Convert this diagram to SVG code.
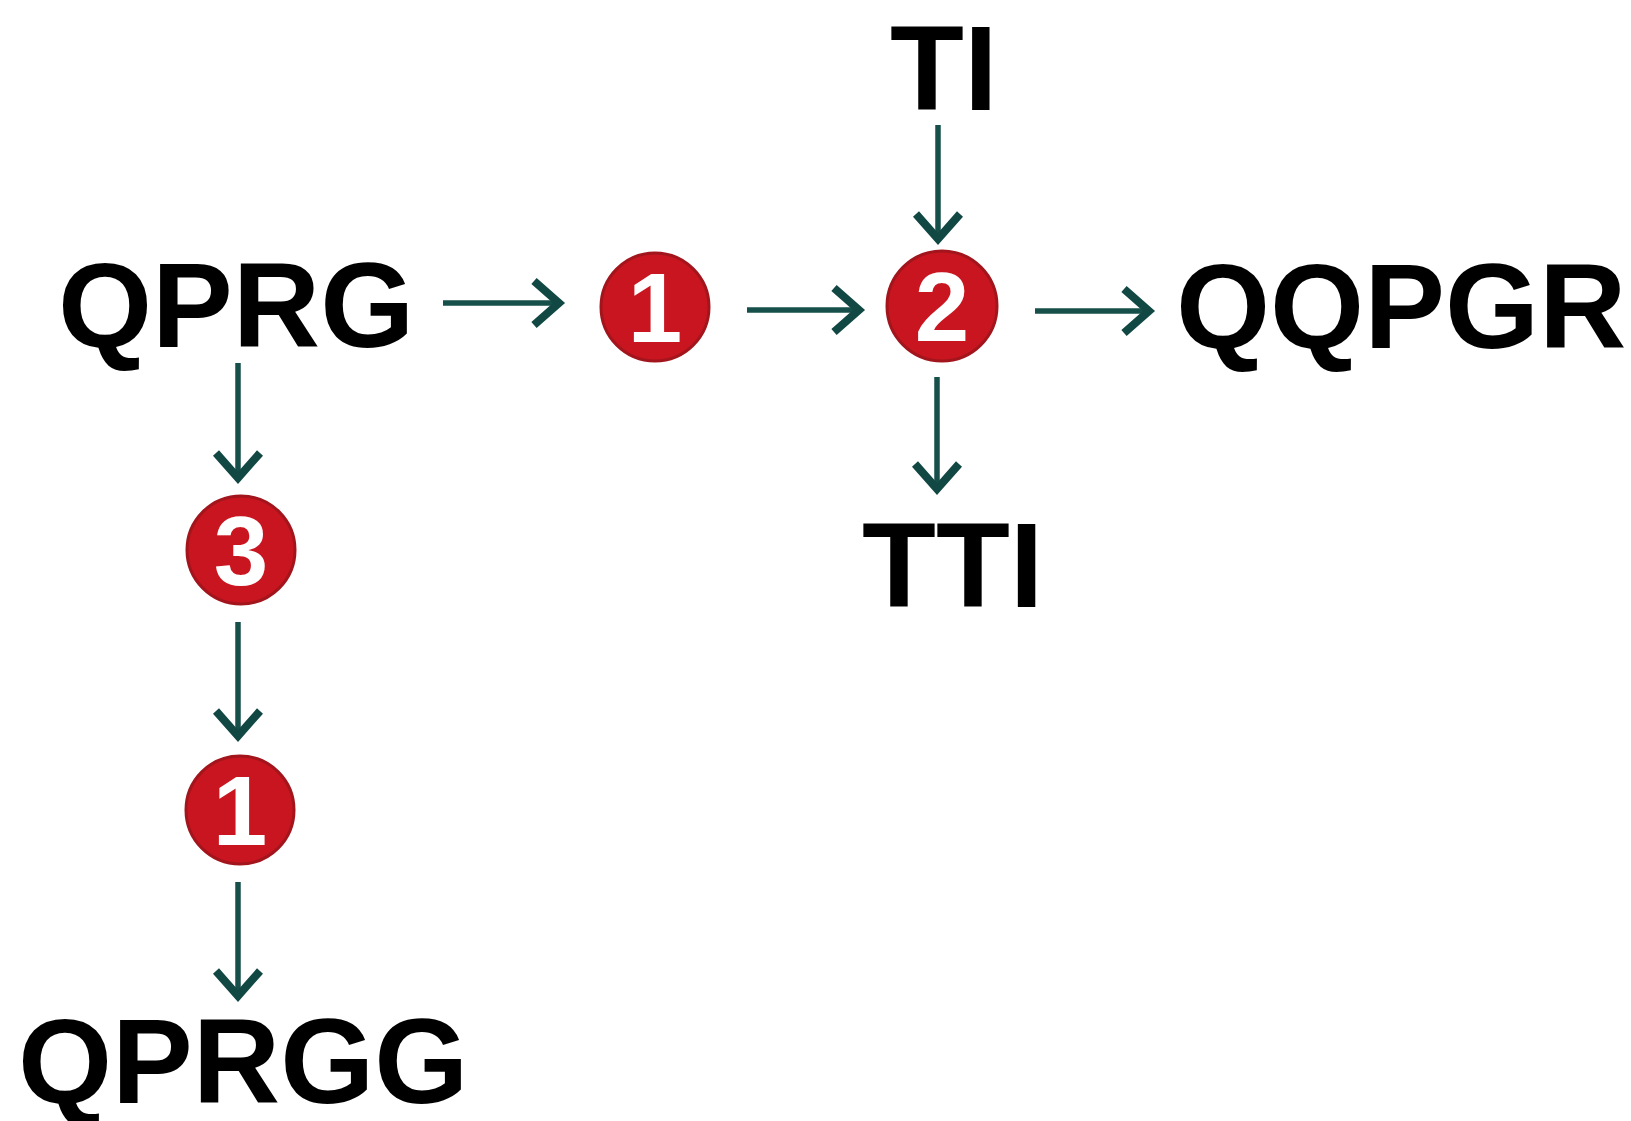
<svg xmlns="http://www.w3.org/2000/svg" width="1631" height="1121" viewBox="0 0 1631 1121">
<style>
.lbl{font-family:"Liberation Sans",Arial,sans-serif;font-weight:bold;font-size:121px;fill:#000}
.num{font-family:"Liberation Sans",Arial,sans-serif;font-weight:bold;font-size:98px;fill:#fff;text-anchor:middle}
.badge{fill:#c8151f;stroke:#a3151c;stroke-width:3}
.conn{stroke:#174f4a;stroke-width:5.5;fill:none;marker-end:url(#ah)}
</style>
<defs>
<marker id="ah" markerUnits="userSpaceOnUse" markerWidth="36" markerHeight="56" refX="29" refY="26" orient="auto" viewBox="0 0 36 56">
<path d="M4,4 L29,26 L4,48" fill="none" stroke="#114843" stroke-width="8" stroke-linejoin="miter" stroke-miterlimit="3"/>
</marker>
</defs>
<rect width="1631" height="1121" fill="#fff"/>
<g id="connectors">
<line class="conn" x1="443" y1="303" x2="559" y2="303"/>
<line class="conn" x1="747" y1="310" x2="859" y2="310"/>
<line class="conn" x1="1035" y1="311" x2="1149" y2="311"/>
<line class="conn" x1="938" y1="125" x2="938" y2="239"/>
<line class="conn" x1="937" y1="377" x2="937" y2="489"/>
<line class="conn" x1="238" y1="363" x2="238" y2="478"/>
<line class="conn" x1="238" y1="622" x2="238" y2="736"/>
<line class="conn" x1="238" y1="882" x2="238" y2="996"/>
</g>
<g id="node-QPRG"><text class="lbl" x="58" y="347">QPRG</text></g>
<g id="node-QQPGR"><text class="lbl" x="1176" y="348">QQPGR</text></g>
<g id="node-TI"><text class="lbl" x="890" y="110">TI</text></g>
<g id="node-TTI"><text class="lbl" x="862" y="607">TTI</text></g>
<g id="node-QPRGG"><text class="lbl" x="18" y="1103">QPRGG</text></g>
<g id="node-step1a"><circle class="badge" cx="655" cy="307" r="54"/><text class="num" x="655" y="342">1</text></g>
<g id="node-step2"><circle class="badge" cx="942" cy="306" r="55"/><text class="num" x="942" y="341">2</text></g>
<g id="node-step3"><circle class="badge" cx="241" cy="550" r="54"/><text class="num" x="241" y="585">3</text></g>
<g id="node-step1b"><circle class="badge" cx="240" cy="810" r="54"/><text class="num" x="240" y="845">1</text></g>
</svg>
